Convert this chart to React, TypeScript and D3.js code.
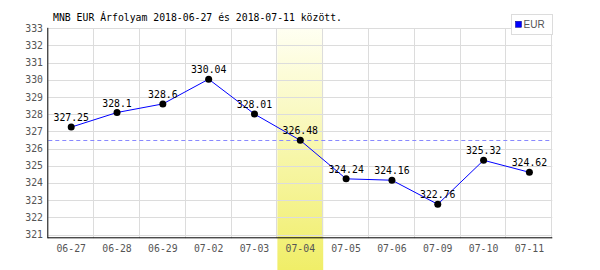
import React from "react";
import * as d3 from "d3";

const categories = ["06-27", "06-28", "06-29", "07-02", "07-03", "07-04", "07-05", "07-06", "07-09", "07-10", "07-11"];
const values = [327.25, 328.1, 328.6, 330.04, 328.01, 326.48, 324.24, 324.16, 322.76, 325.32, 324.62];
const yTicks = [321, 322, 323, 324, 325, 326, 327, 328, 329, 330, 331, 332, 333];
const highlightIndex = 5;
const title = "MNB EUR Árfolyam 2018-06-27 és 2018-07-11 között.";
const seriesName = "EUR";

const W = 600, H = 270;
const left = 48.3, right = 552.3, top = 28.3, bottom = 238.3;
const mono = "'DejaVu Sans Mono', monospace";

export default function App() {
  const x = d3.scaleBand<string>().domain(categories).range([left, right]).padding(0);
  const y = d3.scaleLinear().domain([320.78, 333]).range([bottom, top]);
  const line = d3.line<number>().x((_, i) => x(categories[i])! + x.bandwidth() / 2).y(d => y(d));
  const hx = x(categories[highlightIndex])!;
  const bw = x.bandwidth();
  return (
    <svg width={W} height={H} style={{ position: "absolute", left: 0, top: 0, background: "#fff" }}>
      <defs>
        <linearGradient id="hl" x1="0" y1="0" x2="0" y2="1">
          <stop offset="0" stopColor="#fffff2" />
          <stop offset="1" stopColor="#f0ee68" />
        </linearGradient>
      </defs>
      <rect x={hx} y={top} width={bw} height={H - top} fill="url(#hl)" />
      {yTicks.map(t => (
        <line key={"h" + t} x1={left} x2={right} y1={Math.round(y(t)) + 0.5} y2={Math.round(y(t)) + 0.5} stroke="#dcdcdc" />
      ))}
      {categories.map((c, i) => (
        <line key={"v" + c} x1={Math.round(x(c)! + bw) - 0.5} x2={Math.round(x(c)! + bw) - 0.5} y1={top} y2={bottom} stroke="#dcdcdc" />
      ))}
      <line x1={left} x2={right} y1={Math.round(y(values[highlightIndex])) + 0.5} y2={Math.round(y(values[highlightIndex])) + 0.5} stroke="#8888ff" strokeDasharray="4,3" />
      <line x1={left - 0.5} x2={left - 0.5} y1={top - 0.5} y2={bottom} stroke="#000" />
      <line x1={left - 0.5} x2={right} y1={bottom - 0.5} y2={bottom - 0.5} stroke="#000" />
      {yTicks.map(t => (
        <text key={"yl" + t} x={43} y={y(t) + 3.5} textAnchor="end" fontFamily={mono} fontSize={9.8} fill="#555">{t}</text>
      ))}
      {categories.map(c => (
        <text key={"xl" + c} x={x(c)! + bw / 2} y={251.5} textAnchor="middle" fontFamily={mono} fontSize={9.8} fill="#555">{c}</text>
      ))}
      <path d={line(values) || ""} fill="none" stroke="#0000ff" strokeWidth={1} />
      {values.map((v, i) => (
        <circle key={"p" + i} cx={x(categories[i])! + bw / 2} cy={y(v)} r={3.5} fill="#000" />
      ))}
      {values.map((v, i) => (
        <text key={"vl" + i} x={x(categories[i])! + bw / 2} y={y(v) - 6} textAnchor="middle" fontFamily={mono} fontSize={9.8} fill="#000">{String(v)}</text>
      ))}
      <text x={53} y={21} fontFamily={mono} fontSize={9.8} fill="#000">{title}</text>
      <rect x={511.5} y={14.5} width={41} height={20} fill="#fff" stroke="#dcdcdc" />
      <rect x={515.5} y={21.3} width={6} height={6} fill="#0000ff" stroke="#000080" strokeWidth={0.5} />
      <text x={523.5} y={28} fontFamily="'Liberation Sans', Arial, sans-serif" fontSize={10} fill="#555">{seriesName}</text>
    </svg>
  );
}
